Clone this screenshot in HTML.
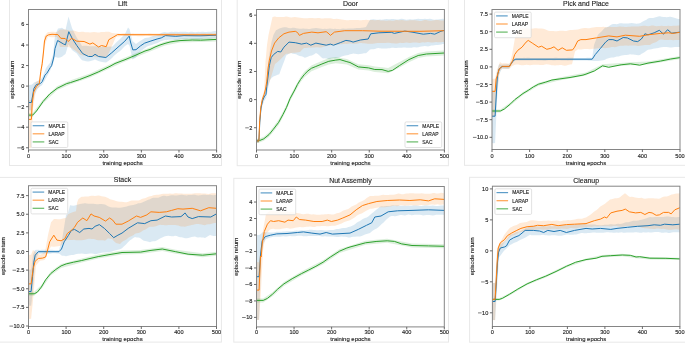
<!DOCTYPE html><html><head><meta charset="utf-8"><style>html,body{margin:0;padding:0;background:#fff;width:685px;height:344px;overflow:hidden}svg{display:block}#w{width:685px;height:344px}text{font-family:"Liberation Sans", sans-serif}.t{filter:grayscale(1)}</style></head><body>
<div id="w"><svg width="685" height="344" viewBox="0 0 685 344">
<rect width="685" height="344" fill="#fff"/>
<rect x="9.5" y="-5" width="212" height="170.5" fill="none" stroke="#e8e8e8" stroke-width="1"/>
<rect x="237.2" y="-5" width="211.2" height="170.7" fill="none" stroke="#e8e8e8" stroke-width="1"/>
<rect x="464.5" y="-5" width="225.5" height="170.3" fill="none" stroke="#e8e8e8" stroke-width="1"/>
<rect x="-5" y="177.4" width="226.4" height="164.7" fill="none" stroke="#e8e8e8" stroke-width="1"/>
<rect x="233.8" y="178.3" width="214.7" height="163.8" fill="none" stroke="#e8e8e8" stroke-width="1"/>
<rect x="469.6" y="177.3" width="220.4" height="164.9" fill="none" stroke="#e8e8e8" stroke-width="1"/>
<clipPath id="cLift"><rect x="28.5" y="9.5" width="188.1" height="140.5"/></clipPath>
<g clip-path="url(#cLift)">
<polygon points="28.5,85 31.4,84.75 33,83.67 34,82.6 36,81.7 38,80.92 40,79.57 42,78.09 44,73.14 46,67.99 48,65.36 50,62.94 53,55.06 55,35.3 58,28.52 60,28.29 62,27.87 63.75,28.97 65.5,30.12 68.5,16.46 70.25,22.27 72,28.05 74.4,32.9 76.8,37.84 78.53,40.37 80.27,43.12 82,45.98 84,45.77 86,45.67 88,45.98 89.75,46.16 91.5,46.16 93.25,46.29 95,46.24 96.67,46.31 98.33,46.57 100,46.67 102,46.64 104,46.89 106,47.1 108,46.74 110,46.55 112,46.85 113.75,45.28 115.5,43.22 117.25,41.4 119,39.97 121,38.1 123,36.02 125,33.99 128,27.39 129.5,28.97 132.5,41.05 134.25,42.54 136,43.98 137.67,42.69 139.33,41.51 141,40.4 143,39.29 145,37.98 147,37.73 149,37.41 151,36.7 153,35.96 155,35.68 157,35.25 158.6,34.44 160.2,33.58 161.8,32.86 163.4,32.33 165,32.09 166.67,32.44 168.33,32.45 170,32.02 171.67,31.77 173.33,31.89 175,31.75 176.8,31.81 178.6,31.94 180.4,31.69 182.2,31.68 184,31.74 185.6,31.71 187.2,32.08 188.8,32.23 190.4,31.8 192,31.63 193.6,32 195.2,32.33 196.8,32.1 198.4,31.87 200,31.98 201.64,31.72 203.28,31.66 204.92,31.99 206.56,32 208.2,31.82 209.84,31.78 211.48,31.7 213.12,31.35 214.76,31.01 216.4,31 216.4,38 214.76,37.92 213.12,38.12 211.48,38.41 209.84,38.75 208.2,38.8 206.56,38.59 204.92,38.38 203.28,38.59 201.64,39.05 200,39.19 198.4,39.23 196.8,39.19 195.2,38.89 193.6,39 192,39.17 190.4,38.78 188.8,38.58 187.2,39.05 185.6,39.47 184,39.33 182.2,39.11 180.4,39.11 178.6,39.39 176.8,39.8 175,39.96 173.33,39.84 171.67,39.85 170,39.7 168.33,39.8 166.67,40.15 165,40.05 163.4,40.45 161.8,40.99 160.2,41.58 158.6,42.58 157,43.35 155,43.67 153,44.39 151,45.17 149,45.79 147,46.61 145,47.93 143,49.62 141,51.12 139.33,53.41 137.67,55.36 136,57.4 134.25,58.41 132.5,59.52 129.5,45.83 128,43.97 125,45.88 123,48.09 121,50.22 119,51.81 117.25,52.99 115.5,54.46 113.75,56.11 112,58.05 110,59.77 108,61.14 106,62.4 104,62.29 102,61.95 100,61.57 98.33,61.08 96.67,60.33 95,59.58 93.25,60.17 91.5,60.83 89.75,61.16 88,61.57 86,61.24 84,60.71 82,60.32 80.27,58.3 78.53,55.89 76.8,53.54 74.4,51.72 72,50.01 70.25,47.06 68.5,44.19 65.5,54.04 63.75,55.24 62,56.82 60,57.43 58,57.67 55,56.91 53,63.86 50,70.92 48,74.58 46,78.15 44,81.76 42,85.21 40,86.47 38,87.98 36,91.93 34,95.85 33,101.17 31.4,110.48 28.5,110" fill="#1f77b4" fill-opacity="0.165"/>
<polygon points="28.5,100 31.4,100.09 32.3,92.15 33,88.07 36,81.88 37.65,80.88 39.3,80.25 42,58.39 44.5,35.97 46.25,33.83 48,32.08 49.8,32.02 51.6,31.83 53.4,31.87 55.2,31.98 57,32.09 60,29.46 62,29.4 64,29.55 66,29.51 68,30.22 70,30.77 72,30.74 73.6,30.58 75.2,30.94 76.8,31.47 78.4,31.88 80,31.88 81.67,31.71 83.33,31.86 85,32.23 86.67,32.37 88.33,32.3 90,32.39 92,32.17 94,31.91 96,32.13 97.67,32.4 99.33,32.38 101,32.12 102.67,31.97 104.33,31.94 106,31.7 109,31.8 112,33.12 114,33.33 116,33.53 118,33.61 120,33.65 121.61,33.57 123.21,33.36 124.82,33.32 126.43,33.39 128.03,33.32 129.64,33.34 131.25,33.4 132.85,33.35 134.46,33.42 136.07,33.49 137.67,33.43 139.28,33.44 140.89,33.43 142.49,33.41 144.1,33.51 145.71,33.51 147.31,33.43 148.92,33.36 150.53,33.34 152.13,33.43 153.74,33.46 155.35,33.51 156.95,33.52 158.56,33.46 160.17,33.48 161.77,33.53 163.38,33.61 164.99,33.51 166.59,33.34 168.2,33.34 169.81,33.36 171.41,33.35 173.02,33.3 174.63,33.35 176.23,33.4 177.84,33.36 179.45,33.44 181.05,33.38 182.66,33.31 184.27,33.42 185.87,33.49 187.48,33.47 189.09,33.31 190.69,33.15 192.3,33.18 193.91,33.37 195.51,33.41 197.12,33.35 198.73,33.43 200.33,33.42 201.94,33.31 203.55,33.31 205.15,33.36 206.76,33.39 208.37,33.36 209.97,33.28 211.58,33.35 213.19,33.44 214.79,33.37 216.4,33.3 216.4,36.3 214.79,36.41 213.19,36.36 211.58,36.18 209.97,36.09 208.37,36.21 206.76,36.42 205.15,36.46 203.55,36.32 201.94,36.15 200.33,36.03 198.73,36.12 197.12,36.35 195.51,36.29 193.91,36.13 192.3,36.17 190.69,36.2 189.09,36.28 187.48,36.34 185.87,36.16 184.27,36.03 182.66,36.1 181.05,36.3 179.45,36.35 177.84,36.25 176.23,36.26 174.63,36.32 173.02,36.32 171.41,36.29 169.81,36.22 168.2,36.01 166.59,35.97 164.99,36.16 163.38,36.17 161.77,36.13 160.17,36.22 158.56,36.13 156.95,36.05 155.35,36.22 153.74,36.32 152.13,36.36 150.53,36.25 148.92,35.98 147.31,35.85 145.71,35.83 144.1,35.95 142.49,36.21 140.89,36.3 139.28,36.21 137.67,36.13 136.07,36.11 134.46,36.05 132.85,35.89 131.25,35.89 129.64,36.05 128.03,36.04 126.43,36.02 124.82,36.08 123.21,36.08 121.61,36.09 120,36.13 118,36.6 116,36.91 114,41.28 112,46.1 109,52.4 106,57.53 104.33,57.39 102.67,57.11 101,56.92 99.33,57.02 97.67,57.24 96,57.14 94,56.74 92,56.51 90,56.17 88.33,55.94 86.67,56 85,55.68 83.33,55.39 81.67,55.3 80,54.85 78.4,53.32 76.8,51.87 75.2,50.6 73.6,49.57 72,48.14 70,47.49 68,46.9 66,46.77 64,47.12 62,47.1 60,46.96 57,36.88 55.2,36.96 53.4,37.14 51.6,37.18 49.8,37.02 48,36.85 46.25,41.37 44.5,46.07 42,70.09 39.3,86.97 37.65,88.42 36,89.93 33,108.15 32.3,125.27 31.4,148.07 28.5,148" fill="#ff7f0e" fill-opacity="0.165"/>
<polygon points="28.5,113 32.7,113 43,99.5 57,86.3 70,80.6 90,73.5 122,58.8 135,53.5 150,47.5 165,41.4 180,38.6 216.6,37.4 216.6,41.4 180,42.6 165,45.4 150,51.5 135,57.5 122,62.8 90,77.5 70,84.6 57,90.3 43,103.5 32.7,117 28.5,117" fill="#2ca02c" fill-opacity="0.165"/>
<polyline points="28.5,115.1 32.7,115.1 36.5,111 43.1,101.5 49.7,94 57.2,88.3 66.7,83.6 70.4,82.6 79.7,79.5 90,75.5 98.2,72 110,66.3 115,63.5 122,60.8 125,59.7 135,55.5 145,51 150,49.5 155,47 160,45 165,43.4 170,42 175,41.2 180,40.6 192.2,40 200.5,40.2 216.6,39.4" fill="none" stroke="#2ca02c" stroke-width="1.0" stroke-linejoin="round"/>
<polyline points="28.5,102.5 31.4,102.5 34,88.3 36.5,84.5 40.3,83.6 42.2,81.7 45,75.1 46.9,73.2 50.3,67.5 51.6,65.7 53.1,60 54,56 55,48.5 57.6,40.5 63.7,44.1 65.5,44.8 68.8,31.7 72.5,39 76.8,45.5 82.6,53.5 88.5,56.5 92.1,56.5 95,54.3 98.6,56.5 105.9,57.5 111.7,52.8 119,46.3 124.8,41.2 129.2,36.1 130.5,42 132.8,49.9 136,49.7 140.6,45.8 144.7,43.1 150.9,41 157.1,39 161.3,37.9 165.4,35.6 175.7,36.3 184,35.6 200,35.8 216.4,35.2" fill="none" stroke="#1f77b4" stroke-width="1.0" stroke-linejoin="round"/>
<polyline points="28.5,119.4 31.4,119.4 32.2,103.4 33.7,92 36.5,86.4 39.3,83.6 40.8,71.3 42.2,63.8 43.5,52 44.5,41 46.3,36 48.7,34.8 52,34.3 57.9,34.6 60.8,38.3 65.2,38.5 68.1,41.5 71.7,38.3 76.8,41.2 84.1,41.5 89.9,44.1 92.8,42.9 98.6,47 101.5,45.5 106.2,46.7 108.8,39.7 113.9,36.8 117.5,34.6 122,34.7 216.4,34.8" fill="none" stroke="#ff7f0e" stroke-width="1.0" stroke-linejoin="round"/>
</g>
<rect x="28.5" y="9.5" width="188.1" height="140.5" fill="none" stroke="#858585" stroke-width="1"/>
<line x1="28.5" y1="150" x2="28.5" y2="152.5" stroke="#5a5a5a" stroke-width="0.9"/>
<line x1="66.12" y1="150" x2="66.12" y2="152.5" stroke="#5a5a5a" stroke-width="0.9"/>
<line x1="103.74" y1="150" x2="103.74" y2="152.5" stroke="#5a5a5a" stroke-width="0.9"/>
<line x1="141.36" y1="150" x2="141.36" y2="152.5" stroke="#5a5a5a" stroke-width="0.9"/>
<line x1="178.98" y1="150" x2="178.98" y2="152.5" stroke="#5a5a5a" stroke-width="0.9"/>
<line x1="216.6" y1="150" x2="216.6" y2="152.5" stroke="#5a5a5a" stroke-width="0.9"/>
<line x1="26" y1="147.75" x2="28.5" y2="147.75" stroke="#5a5a5a" stroke-width="0.9"/>
<line x1="26" y1="127.2" x2="28.5" y2="127.2" stroke="#5a5a5a" stroke-width="0.9"/>
<line x1="26" y1="106.65" x2="28.5" y2="106.65" stroke="#5a5a5a" stroke-width="0.9"/>
<line x1="26" y1="86.1" x2="28.5" y2="86.1" stroke="#5a5a5a" stroke-width="0.9"/>
<line x1="26" y1="65.55" x2="28.5" y2="65.55" stroke="#5a5a5a" stroke-width="0.9"/>
<line x1="26" y1="45" x2="28.5" y2="45" stroke="#5a5a5a" stroke-width="0.9"/>
<line x1="26" y1="24.45" x2="28.5" y2="24.45" stroke="#5a5a5a" stroke-width="0.9"/>
<rect x="31.1" y="121.9" width="36.7" height="25.6" rx="1.2" fill="#fff" fill-opacity="0.8" stroke="#d6d6d6" stroke-width="0.7"/>
<line x1="32.7" y1="125.7" x2="44.3" y2="125.7" stroke="#1f77b4" stroke-width="1.2" stroke-opacity="0.72"/>
<line x1="32.7" y1="133.8" x2="44.3" y2="133.8" stroke="#ff7f0e" stroke-width="1.2" stroke-opacity="0.72"/>
<line x1="32.7" y1="141.9" x2="44.3" y2="141.9" stroke="#2ca02c" stroke-width="1.2" stroke-opacity="0.72"/>
<clipPath id="cDoor"><rect x="256.5" y="9.5" width="187.9" height="140.5"/></clipPath>
<g clip-path="url(#cDoor)">
<polygon points="256.5,139 258.9,138.91 259.8,116.89 261,103.96 262.5,96.92 264.2,92.71 266,87.73 267,75.08 268.5,60.29 270,50.15 271.5,42.02 273.4,35.08 276,30.2 277.65,29.54 279.3,28.52 281,27.92 282.7,27.58 284.45,27.36 286.2,27.32 288.55,27.92 290.9,28.15 292.65,27.82 294.4,27.85 296.15,28.26 297.9,28.47 299.62,28.68 301.35,28.64 303.07,28.47 304.8,28.64 306.55,28.71 308.3,28.96 310.05,29.03 311.8,28.58 313.9,28.2 316,28.09 317.75,28.29 319.5,28.59 321.25,28.81 323,28.88 324.75,28.81 326.5,28.96 328.25,28.83 330,28.45 331.67,28.65 333.33,28.91 335,28.83 336.67,28.9 338.33,29.1 340,29.16 341.67,28.84 343.33,28.54 345,28.66 346.67,28.74 348.33,28.56 350,28.44 351.67,28.4 353.33,28.41 355,28.22 356.67,27.96 358.33,28.03 360,28.09 362,27.68 364,27.43 366,27.04 368,23.26 370,19.67 371.67,19.45 373.33,19.26 375,19.48 376.67,19.78 378.33,19.7 380,19.5 381.67,19.63 383.33,19.59 385,19.18 386.67,19.05 388.33,19.33 390,19.33 391.67,18.95 393.33,18.89 395,19.27 396.67,19.49 398.33,19.38 400,19.11 401.67,18.82 403.33,18.93 405,19.45 406.67,19.78 408.33,19.56 410,19.36 411.67,19.56 413.33,19.52 415,19.18 416.67,18.97 418.33,18.87 420,18.9 421.62,19.08 423.24,19.06 424.86,18.82 426.48,18.88 428.1,18.96 429.72,18.85 431.34,19.11 432.96,19.54 434.58,19.68 436.2,19.56 437.82,19.42 439.44,19.24 441.06,18.9 442.68,18.79 444.3,19 444.3,44 442.68,44.12 441.06,44.48 439.44,44.71 437.82,44.99 436.2,45.03 434.58,45.29 432.96,45.53 431.34,45.49 429.72,45.91 428.1,46.38 426.48,46.31 424.86,46.11 423.24,46.14 421.62,46.39 420,46.81 418.33,47.27 416.67,47.43 415,47.22 413.33,47.35 411.67,47.82 410,47.81 408.33,47.64 406.67,47.74 405,47.56 403.33,47.45 401.67,47.69 400,47.75 398.33,47.66 396.67,47.88 395,48.07 393.33,47.85 391.67,47.83 390,48.16 388.33,48.32 386.67,48.42 385,48.56 383.33,48.56 381.67,48.47 380,48.17 378.33,48.01 376.67,48.33 375,49.02 373.33,49.2 371.67,49.17 370,49.58 368,51.54 366,53.25 364,53.33 362,53.73 360,54.12 358.33,54.13 356.67,54.12 355,53.77 353.33,53.61 351.67,53.97 350,54.28 348.33,54.99 346.67,55.35 345,55.57 343.33,56.06 341.67,56.62 340,57.24 338.33,57.63 336.67,58 335,58.18 333.33,58 331.67,58.15 330,58.93 328.25,58.94 326.5,58.39 324.75,58.16 323,58.38 321.25,57.28 319.5,55.61 317.75,54.02 316,53 313.9,54.44 311.8,55.52 310.05,55.83 308.3,56.44 306.55,57.32 304.8,57.76 303.07,56.78 301.35,56.33 299.62,55.98 297.9,55.15 296.15,54.31 294.4,53.96 292.65,53.66 290.9,52.88 288.55,53.96 286.2,55.54 284.45,60.52 282.7,65.06 281,69.47 279.3,74.16 277.65,74.85 276,75.4 273.4,76.49 271.5,78.12 270,79.92 268.5,86.06 267,94.08 266,97.89 264.2,100.95 262.5,105.21 261,112.21 259.8,124.93 258.9,142.95 256.5,143" fill="#1f77b4" fill-opacity="0.165"/>
<polygon points="256.5,139 258.9,139.01 259.8,116.93 261,103.65 262.5,95.57 264.2,90.7 265.5,61.82 267,44.99 268.5,35.12 270,28.13 272.5,16.93 275,16.59 276.67,16.97 278.33,16.94 280,16.88 282,17.03 284,16.93 286,16.59 287.75,16.74 289.5,17.29 291.25,17.52 293,17.2 294.75,16.91 296.5,17.16 298.25,17.6 300,17.76 302,17.91 304,18.16 305.71,18.26 307.43,18.22 309.14,18.01 310.86,17.89 312.57,18.12 314.29,18.32 316,18.21 317.75,18 319.5,18.08 321.25,18.4 323,18.46 324.75,18.35 326.5,18.36 328.25,18.33 330,18.21 331.67,18.43 333.33,18.88 335,19.01 336.67,18.85 338.33,18.96 340,19.27 341.67,19.42 343.33,19.68 345,20.1 346.67,20.31 348.33,20.2 350,19.97 351.61,19.94 353.23,20.05 354.84,19.99 356.45,19.99 358.06,20.05 359.68,20.16 361.29,20.19 362.9,20.08 364.52,19.94 366.13,19.8 367.74,19.97 369.35,20.17 370.97,19.99 372.58,20 374.19,20.26 375.81,20.35 377.42,20.12 379.03,20.05 380.65,20.45 382.26,20.52 383.87,20.41 385.48,20.66 387.1,20.65 388.71,20.41 390.32,20.52 391.94,20.72 393.55,20.64 395.16,20.3 396.77,20.12 398.39,20.21 400,20.16 401.64,20.02 403.28,20.13 404.92,20.5 406.56,20.66 408.2,20.45 409.84,20.28 411.49,20.22 413.13,20.23 414.77,20.31 416.41,20.45 418.05,20.71 419.69,20.9 421.33,20.9 422.97,20.57 424.61,20.03 426.25,20.01 427.89,20.44 429.53,20.75 431.17,20.63 432.81,20.38 434.46,20.35 436.1,20.1 437.74,20.03 439.38,20.32 441.02,20.43 442.66,20.44 444.3,20.4 444.3,42 442.66,41.93 441.02,42.28 439.38,42.31 437.74,42.14 436.1,42.11 434.46,42.26 432.81,42.46 431.17,42.42 429.53,42.22 427.89,42.12 426.25,42.34 424.61,42.5 422.97,42.37 421.33,42.61 419.69,42.88 418.05,42.74 416.41,42.57 414.77,42.45 413.13,42.49 411.49,42.79 409.84,42.89 408.2,42.7 406.56,42.5 404.92,42.65 403.28,43.02 401.64,42.91 400,42.81 398.39,43.15 396.77,43.43 395.16,43.5 393.55,43.34 391.94,43.2 390.32,43.11 388.71,42.85 387.1,42.83 385.48,43.09 383.87,43.04 382.26,42.93 380.65,42.99 379.03,43.04 377.42,43.07 375.81,43.14 374.19,43.49 372.58,43.78 370.97,43.73 369.35,43.71 367.74,43.63 366.13,43.38 364.52,43.24 362.9,43.17 361.29,43.03 359.68,43.07 358.06,43.38 356.45,43.7 354.84,43.8 353.23,43.74 351.61,43.62 350,43.5 348.33,43.77 346.67,43.9 345,43.82 343.33,43.96 341.67,44.17 340,44.35 338.33,44.53 336.67,44.81 335,45.16 333.33,45.32 331.67,45.34 330,45.48 328.25,45.76 326.5,46.08 324.75,46.44 323,46.9 321.25,47.4 319.5,47.47 317.75,47.2 316,47.3 314.29,47.41 312.57,47.54 310.86,47.67 309.14,47.53 307.43,47.67 305.71,48.03 304,47.88 302,49.78 300,52 298.25,52.34 296.5,52.61 294.75,52.72 293,52.75 291.25,52.99 289.5,53.49 287.75,53.69 286,53.76 284,55.82 282,57.84 280,59.84 278.33,61.26 276.67,62.74 275,64.07 272.5,72.23 270,80.49 268.5,84.53 267,88.41 265.5,93.21 264.2,96.95 262.5,101.82 261,109.8 259.8,122.77 258.9,142.96 256.5,143" fill="#ff7f0e" fill-opacity="0.165"/>
<polygon points="256.5,138.8 259.5,138.6 263.8,136.8 269.1,132.2 273.4,126.7 278.7,119.6 283,111.8 286.5,104.8 290,96.2 294.7,87.5 300.5,76.8 304.4,71.6 311.4,65.4 315.8,63.5 321.9,61 328.8,58.1 335.8,56.9 346.9,59 358.3,64.3 368.6,65.3 374.8,66.6 388.2,68 399.6,62.1 408.9,57 418.2,53 426.4,51.5 444.3,50.5 444.3,55.5 426.4,56.5 418.2,58 408.9,62.3 399.6,67.5 388.2,73.2 374.8,72 368.6,70.5 358.3,69.5 346.9,64.5 335.8,63.3 328.8,64.5 321.9,67 315.8,69.5 311.4,71.2 304.4,77.2 300.5,82.2 294.7,92.5 290,101.2 286.5,110 283,117 278.7,125 273.4,131.7 269.1,136.8 263.8,140.8 259.5,142.6 256.5,142.8" fill="#2ca02c" fill-opacity="0.165"/>
<polyline points="256.5,140.8 259.5,140.6 263.8,138.8 269.1,134.5 273.4,129.2 278.7,122.3 283,114.4 286.5,107.4 290,98.7 294.7,90 297.4,84.5 300.5,79.5 304.4,74.4 308,70.8 311.4,68.3 315.8,66.5 321.9,64 328.8,61.3 335.8,60.1 340,59.6 346.9,61.7 350,62.5 358.3,66.9 368.6,67.9 374.8,69.5 382,69.6 388.2,71.4 392.4,70.4 399.6,65.5 408.9,59.6 418.2,55.5 426.4,54 444.3,53" fill="none" stroke="#2ca02c" stroke-width="1.0" stroke-linejoin="round"/>
<polyline points="256.5,141 258.9,141 259.8,122 261,108 262.5,101 264.2,96.9 266,94.3 266.8,86.4 268.1,76 269.4,65.5 271.2,57.6 273.6,54.5 277.7,51.4 280.8,52 283.9,47.2 289,42.1 295.3,42.7 301.5,44.1 306.6,43.1 310.8,45.2 315.9,43.1 326.2,45.2 330.4,44.1 333.5,45.2 340.7,42.5 345.9,40.4 350,41 353.1,42.1 360.3,40 368.2,39 370.7,33.8 378.9,32.8 391.3,32.3 394.4,33.4 404.8,31.1 412,32.1 423.3,34.2 430.6,33.4 434.7,34.2 440.9,31.3 444.3,30.3" fill="none" stroke="#1f77b4" stroke-width="1.0" stroke-linejoin="round"/>
<polyline points="256.5,141 258.9,141 259.7,120.4 260.8,107.4 262.3,99.5 264.2,94.3 265.5,89 266.8,81.2 268.1,68.1 269.4,60.2 271.5,51 274.6,43.1 278.7,37.9 283.9,33.8 289,32.1 295.3,31.3 297.5,32.5 299.4,35.4 303.5,33.4 311.8,32.1 318,32.8 326.2,31.7 328,33 330.4,35.4 334.5,32.1 344.8,30.7 362.4,30.7 380,31.2 420,31.3 444.3,30.7" fill="none" stroke="#ff7f0e" stroke-width="1.0" stroke-linejoin="round"/>
</g>
<rect x="256.5" y="9.5" width="187.9" height="140.5" fill="none" stroke="#858585" stroke-width="1"/>
<line x1="256.5" y1="150" x2="256.5" y2="152.5" stroke="#5a5a5a" stroke-width="0.9"/>
<line x1="294.08" y1="150" x2="294.08" y2="152.5" stroke="#5a5a5a" stroke-width="0.9"/>
<line x1="331.66" y1="150" x2="331.66" y2="152.5" stroke="#5a5a5a" stroke-width="0.9"/>
<line x1="369.24" y1="150" x2="369.24" y2="152.5" stroke="#5a5a5a" stroke-width="0.9"/>
<line x1="406.82" y1="150" x2="406.82" y2="152.5" stroke="#5a5a5a" stroke-width="0.9"/>
<line x1="444.4" y1="150" x2="444.4" y2="152.5" stroke="#5a5a5a" stroke-width="0.9"/>
<line x1="254" y1="127.74" x2="256.5" y2="127.74" stroke="#5a5a5a" stroke-width="0.9"/>
<line x1="254" y1="99.6" x2="256.5" y2="99.6" stroke="#5a5a5a" stroke-width="0.9"/>
<line x1="254" y1="71.46" x2="256.5" y2="71.46" stroke="#5a5a5a" stroke-width="0.9"/>
<line x1="254" y1="43.32" x2="256.5" y2="43.32" stroke="#5a5a5a" stroke-width="0.9"/>
<line x1="254" y1="15.18" x2="256.5" y2="15.18" stroke="#5a5a5a" stroke-width="0.9"/>
<rect x="405" y="121.9" width="36.7" height="25.6" rx="1.2" fill="#fff" fill-opacity="0.8" stroke="#d6d6d6" stroke-width="0.7"/>
<line x1="406.6" y1="125.7" x2="418.2" y2="125.7" stroke="#1f77b4" stroke-width="1.2" stroke-opacity="0.72"/>
<line x1="406.6" y1="133.8" x2="418.2" y2="133.8" stroke="#ff7f0e" stroke-width="1.2" stroke-opacity="0.72"/>
<line x1="406.6" y1="141.9" x2="418.2" y2="141.9" stroke="#2ca02c" stroke-width="1.2" stroke-opacity="0.72"/>
<clipPath id="cPickandPlace"><rect x="492" y="9.5" width="188" height="140"/></clipPath>
<g clip-path="url(#cPickandPlace)">
<polygon points="491.9,90 493.5,90.21 495.1,90.29 497,72.35 499,64.37 502,64.69 503.75,64.53 505.5,64.49 507.25,64.37 509,64.2 511.35,61.37 513.7,58.51 516,57.9 517.62,58.01 519.24,58.05 520.86,57.96 522.49,57.89 524.11,57.86 525.73,57.91 527.35,57.79 528.97,57.72 530.59,57.89 532.21,58.03 533.83,58.05 535.46,57.99 537.08,57.89 538.7,57.88 540.32,57.95 541.94,58.02 543.56,58.08 545.18,58.04 546.8,57.97 548.43,57.95 550.05,57.91 551.67,57.91 553.29,57.95 554.91,57.83 556.53,57.79 558.15,57.96 559.77,57.97 561.4,57.96 563.02,58.02 564.64,58.06 566.26,57.99 567.88,57.81 569.5,57.77 571.12,57.78 572.74,57.79 574.37,57.93 575.99,58.07 577.61,58.1 579.23,58.01 580.85,57.93 582.47,57.98 584.09,58.08 585.71,58.01 587.34,57.86 588.96,57.77 590.58,57.7 592.2,57.77 594,44.93 596,39.78 598,34.69 599.75,33.12 601.5,31.5 603.25,29.58 605,27.86 606.75,27.27 608.5,26.42 610.25,25.36 612,24.24 613.6,23.98 615.2,24.04 616.8,24.17 618.4,23.84 620,23.37 621.67,23.33 623.33,23.5 625,23.45 626.67,23.42 628.33,23.54 630,23.23 631.67,22.98 633.33,23.15 635,23.44 636.67,23.72 638.33,23.61 640,23.19 641.6,22.15 643.2,21.33 644.8,20.43 646.4,19.67 648,18.57 649.71,18.05 651.43,18.02 653.14,18 654.86,17.54 656.57,16.93 658.29,16.56 660,16.37 661.67,16.74 663.33,16.92 665,16.98 666.67,17.15 668.33,17 670,16.76 671.67,17 673.33,17.41 675,17.89 676.67,18.38 678.33,19.03 680,19.3 680,47 678.33,46.89 676.67,46.97 675,47 673.33,47.31 671.67,47.48 670,47.42 668.33,47.24 666.67,46.99 665,46.99 663.33,46.99 661.67,47.25 660,47.6 658.29,47.96 656.57,48.3 654.86,48.5 653.14,48.84 651.43,49.34 649.71,49.6 648,49.71 646.4,50.66 644.8,51.91 643.2,53.04 641.6,53.87 640,54.97 638.33,55.17 636.67,55.05 635,54.7 633.33,54.54 631.67,54.5 630,54.28 628.33,54.7 626.67,55.12 625,55.12 623.33,55.34 621.67,55.61 620,55.9 618.4,56.4 616.8,56.6 615.2,56.99 613.6,57.47 612,57.53 610.25,57.8 608.5,58.13 606.75,58.75 605,59.75 603.25,60.33 601.5,60.61 599.75,60.81 598,61.11 596,61.08 594,61 592.2,60.63 590.58,60.75 588.96,60.67 587.34,60.5 585.71,60.47 584.09,60.61 582.47,60.6 580.85,60.47 579.23,60.39 577.61,60.41 575.99,60.44 574.37,60.42 572.74,60.38 571.12,60.42 569.5,60.58 567.88,60.65 566.26,60.61 564.64,60.54 563.02,60.45 561.4,60.38 559.77,60.29 558.15,60.3 556.53,60.36 554.91,60.4 553.29,60.46 551.67,60.36 550.05,60.26 548.43,60.32 546.8,60.47 545.18,60.64 543.56,60.67 541.94,60.55 540.32,60.42 538.7,60.42 537.08,60.45 535.46,60.37 533.83,60.32 532.21,60.46 530.59,60.59 528.97,60.53 527.35,60.5 525.73,60.59 524.11,60.55 522.49,60.43 520.86,60.42 519.24,60.5 517.62,60.54 516,60.47 513.7,61.46 511.35,65.07 509,68.64 507.25,68.69 505.5,68.81 503.75,68.69 502,68.4 499,74.84 497,99.85 495.1,142.88 493.5,143.14 491.9,143" fill="#1f77b4" fill-opacity="0.165"/>
<polygon points="491.9,79 493.5,78.8 495.1,78.8 497,69.99 500,62.01 502,63.39 503.9,63.23 505.8,63.3 507.7,63.55 509.6,63.7 512,55.09 515,37.72 516.67,34.69 518.33,31.78 520,28.59 521.67,28.61 523.33,28.59 525,28.4 526.67,28.28 528.33,28.45 530,28.72 531.67,28.69 533.33,28.48 535,28.25 536.67,28.31 538.33,28.59 540,28.44 541.67,28.48 543.33,28.74 545,29.26 546.67,30.06 548.33,30.71 550,30.95 551.67,30.9 553.33,31.11 555,31.27 556.67,31.19 558.33,30.88 560,30.7 561.6,30.7 563.2,30.83 564.8,30.98 566.4,30.96 568,30.5 570,29.95 572,29.92 575,29.85 578,29.45 579.6,29.11 581.2,28.56 582.8,28.27 584.4,28.06 586,28.08 587.75,28.34 589.5,28.16 591.25,27.75 593,27.56 594.75,27.2 596.5,26.96 598.25,27.05 600,27.05 601.67,27.03 603.33,26.83 605,26.9 606.67,27.15 608.33,26.97 610,26.78 611.67,26.95 613.33,27.09 615,27.07 616.67,26.96 618.33,26.71 620,26.59 621.67,26.65 623.33,26.86 625,27.08 626.67,27.03 628.33,26.84 630,26.68 631.67,26.57 633.33,26.48 635,26.47 636.67,26.57 638.33,26.58 640,26.31 641.67,25.95 643.33,25.71 645,25.74 646.67,26.01 648.33,26.19 650,26.01 651.67,25.62 653.33,25.61 655,25.97 656.67,26.15 658.33,26.12 660,25.9 661.67,25.83 663.33,26.02 665,26 666.67,25.9 668.33,25.86 670,25.95 671.67,25.93 673.33,25.68 675,25.76 676.67,25.7 678.33,25.39 680,25.5 680,40 678.33,39.93 676.67,39.9 675,39.93 673.33,40.13 671.67,40.01 670,39.81 668.33,39.93 666.67,40.06 665,39.91 663.33,39.64 661.67,39.54 660,39.56 658.33,40.53 656.67,41.7 655,42.61 653.33,43.02 651.67,43.81 650,44.97 648.33,45.02 646.67,44.97 645,45.03 643.33,45.18 641.67,45.44 640,45.7 638.33,45.93 636.67,45.81 635,45.48 633.33,45.47 631.67,45.55 630,45.57 628.33,45.66 626.67,45.56 625,45.55 623.33,45.76 621.67,45.81 620,45.73 618.33,46.14 616.67,46.81 615,47.16 613.33,47.03 611.67,47.03 610,47.42 608.33,47.77 606.67,48.03 605,48.22 603.33,48.06 601.67,47.9 600,48.02 598.25,48.13 596.5,48.46 594.75,48.69 593,48.8 591.25,49.05 589.5,49.13 587.75,49.1 586,49.07 584.4,49.12 582.8,49.33 581.2,49.52 579.6,49.57 578,49.29 575,51.44 572,64.37 570,64.62 568,65.07 566.4,65.59 564.8,65.82 563.2,65.42 561.6,65.05 560,65.08 558.33,65.13 556.67,65.35 555,65.45 553.33,65.31 551.67,65.15 550,64.79 548.33,64.44 546.67,64.29 545,64.62 543.33,64.93 541.67,64.91 540,64.91 538.33,64.79 536.67,64.73 535,64.7 533.33,64.82 531.67,65.11 530,65.13 528.33,65.01 526.67,64.83 525,64.89 523.33,65.15 521.67,65.21 520,64.96 518.33,64.57 516.67,64.56 515,64.87 512,66.03 509.6,68.8 507.7,69.02 505.8,69.08 503.9,68.87 502,68.88 500,70.77 497,89.71 495.1,116 493.5,116.24 491.9,116" fill="#ff7f0e" fill-opacity="0.165"/>
<polygon points="491.9,109.5 500.3,109.5 510.6,102.3 523,92 538.5,82.7 559.1,77.5 586,72.6 602.5,64.3 630.4,62.3 648,61.6 680,56.1 680,59.1 648,64.6 630.4,65.3 602.5,67.3 586,75.6 559.1,80.5 538.5,85.7 523,95 510.6,105.3 500.3,112.5 491.9,112.5" fill="#2ca02c" fill-opacity="0.165"/>
<polyline points="491.9,111 500.3,111 504.4,109 510.6,103.8 514.7,99.7 518.9,96.6 523,93.5 528.2,90.4 533.3,86.9 538.5,84.2 545.7,82.1 551.9,80 559.1,79 570,77.5 583,75.1 586,74.1 594.3,71 602.5,65.8 608.7,67.3 621.1,64.8 630.4,63.8 639.7,65.2 648,63.1 660.4,61.1 670.7,59 680,57.6" fill="none" stroke="#2ca02c" stroke-width="1.0" stroke-linejoin="round"/>
<polyline points="491.9,116.2 495.1,116.2 496,100 497.2,79 497.8,74 499.2,68.9 502,66.6 509,66.6 511.6,63.1 513.7,60.2 515.8,59.2 592.2,59.2 595.3,54.5 600.5,48.3 605.6,42.1 608.7,39.6 612.9,39.6 617,41 623.2,37.5 627.3,37.9 633.5,41 637.7,41.6 641.4,39 644.9,33.8 648,34.8 654.2,32.8 659.3,30.3 663.5,34.2 667.6,29.7 671.7,33.2 680,32.1" fill="none" stroke="#1f77b4" stroke-width="1.0" stroke-linejoin="round"/>
<polyline points="491.9,91.4 495.1,91.4 495.6,85 496.1,79 497.2,76 499.2,68.9 502.3,66.4 509.6,66.4 512.7,60.7 514.7,54.5 517.8,50.3 522,47.2 526.1,42.1 528.2,40.4 532.3,43.1 538.5,47.2 541.6,46.2 546.8,49.3 550.9,48.3 554,46.8 558.1,50.3 562.2,47.8 566.4,50.3 572.6,49.9 574.6,47.2 577.7,41 580.8,39.6 586,39.6 596.3,37.9 608.7,35.9 617,36.9 625.3,35.2 639.7,36.3 648,34.8 660.4,33.4 668.6,32.8 672.8,33.4 680,32.3" fill="none" stroke="#ff7f0e" stroke-width="1.0" stroke-linejoin="round"/>
</g>
<rect x="492" y="9.5" width="188" height="140" fill="none" stroke="#858585" stroke-width="1"/>
<line x1="492" y1="149.5" x2="492" y2="152" stroke="#5a5a5a" stroke-width="0.9"/>
<line x1="529.6" y1="149.5" x2="529.6" y2="152" stroke="#5a5a5a" stroke-width="0.9"/>
<line x1="567.2" y1="149.5" x2="567.2" y2="152" stroke="#5a5a5a" stroke-width="0.9"/>
<line x1="604.8" y1="149.5" x2="604.8" y2="152" stroke="#5a5a5a" stroke-width="0.9"/>
<line x1="642.4" y1="149.5" x2="642.4" y2="152" stroke="#5a5a5a" stroke-width="0.9"/>
<line x1="680" y1="149.5" x2="680" y2="152" stroke="#5a5a5a" stroke-width="0.9"/>
<line x1="489.5" y1="137.3" x2="492" y2="137.3" stroke="#5a5a5a" stroke-width="0.9"/>
<line x1="489.5" y1="119.7" x2="492" y2="119.7" stroke="#5a5a5a" stroke-width="0.9"/>
<line x1="489.5" y1="102.1" x2="492" y2="102.1" stroke="#5a5a5a" stroke-width="0.9"/>
<line x1="489.5" y1="84.5" x2="492" y2="84.5" stroke="#5a5a5a" stroke-width="0.9"/>
<line x1="489.5" y1="66.9" x2="492" y2="66.9" stroke="#5a5a5a" stroke-width="0.9"/>
<line x1="489.5" y1="49.3" x2="492" y2="49.3" stroke="#5a5a5a" stroke-width="0.9"/>
<line x1="489.5" y1="31.7" x2="492" y2="31.7" stroke="#5a5a5a" stroke-width="0.9"/>
<line x1="489.5" y1="14.1" x2="492" y2="14.1" stroke="#5a5a5a" stroke-width="0.9"/>
<rect x="494.5" y="12.1" width="36.7" height="25.6" rx="1.2" fill="#fff" fill-opacity="0.8" stroke="#d6d6d6" stroke-width="0.7"/>
<line x1="496.1" y1="15.9" x2="507.7" y2="15.9" stroke="#1f77b4" stroke-width="1.2" stroke-opacity="0.72"/>
<line x1="496.1" y1="24" x2="507.7" y2="24" stroke="#ff7f0e" stroke-width="1.2" stroke-opacity="0.72"/>
<line x1="496.1" y1="32.1" x2="507.7" y2="32.1" stroke="#2ca02c" stroke-width="1.2" stroke-opacity="0.72"/>
<clipPath id="cStack"><rect x="28.5" y="185.7" width="188" height="140.8"/></clipPath>
<g clip-path="url(#cStack)">
<polygon points="28.5,270 31.1,269.56 33,254.63 35,249.96 36.65,249.87 38.3,249.82 40.02,249.88 41.75,249.81 43.47,249.68 45.2,249.82 46.92,250.01 48.65,249.88 50.38,249.71 52.1,249.8 53.83,250.07 55.55,250.17 57.27,250.05 59,250.01 62,240.09 64,227.7 66,214.93 68,213.15 70,205.3 71.62,205.47 73.25,205.63 74.88,205.45 76.5,204.97 78.25,204.42 80,204 81.67,203.72 83.33,203.42 85,203.36 86.67,203.47 88.33,203.73 90,203.86 91.67,203.72 93.33,203.8 95,204.06 96.67,204.22 98.33,204.19 100,203.99 101.67,204 103.33,204.2 105,204.56 108,206.37 110,206.97 112,207.5 114,207.46 116,207.42 118,207.74 120,207.75 122,207.42 124,207.05 126,206.78 128,206.07 130,205.57 131.67,205.31 133.33,205.03 135,204.62 136.67,203.88 138.33,203.28 140,203.16 141.67,202.68 143.33,201.94 145,201.2 146.67,200.41 148.33,199.83 150,199.18 151.67,198.37 153.33,197.81 155,197.75 156.67,197.87 158.33,197.66 160,197.08 161.67,196.26 163.33,195.69 165,195.71 166.67,196.13 168.33,196 170,195.53 171.67,195.31 173.33,195.34 175,195.5 176.67,195.45 178.33,195.14 180,194.88 181.67,194.74 183.33,194.94 185,195.36 186.67,195.45 188.33,195.11 190,195.01 191.67,195.09 193.33,194.76 195,194.74 196.67,195.25 198.33,195.44 200,195.34 201.67,195.08 203.33,194.74 205,194.79 206.67,195.02 208.33,194.93 210,194.74 211.62,194.89 213.25,195.15 214.88,195.03 216.5,195 216.5,236 214.88,236.02 213.25,235.99 211.62,235.52 210,234.94 208.33,235.94 206.67,237.05 205,237.91 203.33,237.58 201.67,237.41 200,237.37 198.33,237.46 196.67,237.14 195,236.56 193.33,236.63 191.67,237 190,237.58 188.33,238.06 186.67,238.14 185,238.19 183.33,237.73 181.67,237.3 180,237.21 178.33,236.78 176.67,236.09 175,235.8 173.33,236.14 171.67,236.34 170,236.12 168.33,235.87 166.67,236.03 165,236.23 163.33,237.03 161.67,237.74 160,238.52 158.33,239.48 156.67,240.4 155,241.18 153.33,241.3 151.67,241.58 150,242.25 148.33,241.87 146.67,241.15 145,240.96 143.33,240.38 141.67,239.37 140,238 138.33,237.62 136.67,237.46 135,236.97 133.33,237.99 131.67,239.27 130,240.34 128,242.36 126,244.41 124,246.25 122,248.22 120,249.17 118,249.83 116,250.19 114,250.76 112,251.47 110,251.93 108,252.32 105,252.38 103.33,252.6 101.67,252.87 100,253.21 98.33,253.61 96.67,253.96 95,254.14 93.33,253.85 91.67,253.6 90,253.58 88.33,253.71 86.67,254.04 85,254.11 83.33,253.75 81.67,253.56 80,253.69 78.25,253.84 76.5,254.01 74.88,254.61 73.25,254.9 71.62,254.95 70,255.14 68,255.69 66,256.13 64,255.76 62,255.73 59,253.52 57.27,253.5 55.55,253.37 53.83,253.28 52.1,253.37 50.38,253.64 48.65,253.79 46.92,253.69 45.2,253.56 43.47,253.63 41.75,253.81 40.02,253.87 38.3,253.69 36.65,257.64 35,261.71 33,289.81 31.1,305.71 28.5,305.6" fill="#1f77b4" fill-opacity="0.165"/>
<polygon points="28.5,255 31.1,254.77 33,249.98 36,252.21 38,253.49 40,254.84 41.67,254 43.33,253.11 45,251.92 48,234.99 51,222.23 54,218.98 56,218.88 58,219.29 60,219.33 62,218.66 64,218.22 66,217.96 68,214.2 70,213.28 72,212.39 74,211.78 76,211.21 77,203.06 78.3,199.24 80,197.86 81.7,196.79 83.36,196.77 85.02,196.53 86.68,196.51 88.34,196.45 90,196.04 91.67,195.74 93.33,195.74 95,195.93 96.67,195.83 98.33,195.62 100,195.69 101.67,196.34 103.33,196.61 105,196.71 108,197.98 110,199.16 112,199.82 114,200.16 116,200.88 118,201.41 120,201.68 121.67,201.69 123.33,201.99 125,202.29 126.67,202.13 128.33,201.78 130,201.06 131.67,200.56 133.33,200.44 135,200.45 136.67,200.61 138.33,200.55 140,199.98 141.67,198.97 143.33,198.52 145,198.3 146.67,197.59 148.33,196.83 150,196.33 151.67,195.92 153.33,195.37 155,194.95 156.67,194.84 158.33,194.83 160,194.4 161.67,194.01 163.33,193.79 165,193.68 166.67,193.74 168.33,193.68 170,193.52 171.67,193.83 173.33,193.82 175,193.23 176.67,193.22 178.33,193.54 180,193.41 181.67,193.39 183.33,193.65 185,193.65 186.67,193.71 188.33,193.85 190,193.73 191.67,193.66 193.33,193.54 195,193.3 196.67,193.22 198.33,193.17 200,193.33 201.67,193.53 203.33,193.42 205,193.52 206.64,193.84 208.29,193.91 209.93,193.64 211.57,193.32 213.21,193.26 214.86,193.27 216.5,193.5 216.5,223 214.86,223.06 213.21,223.26 211.57,223.75 209.93,224.29 208.29,224.36 206.64,224.59 205,225.25 203.33,225.1 201.67,224.6 200,224.25 198.33,223.93 196.67,223.91 195,224.26 193.33,224.79 191.67,225.06 190,225.46 188.33,225.75 186.67,226.25 185,226.87 183.33,226.57 181.67,226.54 180,226.25 178.33,225.61 176.67,225.27 175,224.95 173.33,224.92 171.67,224.97 170,224.93 168.33,225.05 166.67,225.27 165,225.16 163.33,225 161.67,225.02 160,224.8 158.33,225.2 156.67,226.02 155,226.62 153.33,226.76 151.67,226.65 150,226.68 148.33,227.62 146.67,228.86 145,229.66 143.33,230.31 141.67,231.43 140,232.48 138.33,232.95 136.67,233.18 135,233.83 133.33,235.24 131.67,236.12 130,236.74 128.33,237.83 126.67,239.24 125,240.22 123.33,241.05 121.67,242.35 120,243.94 118,243.38 116,243.03 114,241.14 112,238.96 110,238.67 108,238.19 105,240.77 103.33,240.25 101.67,240.16 100,240.32 98.33,240.35 96.67,239.93 95,239.37 93.33,239 91.67,238.89 90,238.72 88.34,238.77 86.68,239.15 85.02,239.74 83.36,240.03 81.7,240.23 80,240.3 78.3,240.3 77,240.36 76,240.16 74,239.83 72,239.95 70,240.02 68,239.74 66,240.57 64,242.33 62,244.24 60,245.92 58,246.2 56,246.54 54,246.68 51,246.61 48,251.59 45,259.73 43.33,260.31 41.67,260.56 40,260.85 38,263.1 36,265.41 33,300.22 31.1,318.77 28.5,319" fill="#ff7f0e" fill-opacity="0.165"/>
<polygon points="28.5,291.8 34.2,291.8 41.4,285 50.7,271.6 61.1,263.9 81.7,258.5 98.2,254.6 122,250.5 140.6,250.1 162.3,247 175.7,249.7 202.6,253.2 216.4,251.8 216.4,255.8 202.6,257.2 175.7,253.7 162.3,251 140.6,254.1 122,254.5 98.2,258.6 81.7,262.5 61.1,267.9 50.7,275.6 41.4,289 34.2,295.8 28.5,295.8" fill="#2ca02c" fill-opacity="0.165"/>
<polyline points="28.5,293.8 34.2,293.8 37.3,292.2 41.4,287 45.6,279.8 50.7,273.6 55.9,269.4 61.1,265.9 66.2,263.9 73.5,262.2 81.7,260.5 90,258.5 98.2,256.6 110,254.5 122,252.5 140.6,252.1 150,250.5 162.3,249 175.7,251.7 188.1,254.2 202.6,255.2 216.4,253.8" fill="none" stroke="#2ca02c" stroke-width="1.0" stroke-linejoin="round"/>
<polyline points="28.5,291.5 31.1,291.5 32.5,276.7 33.8,262.2 35.2,255.2 38.3,251.7 59,251.7 61.5,249 64.2,241.8 68.3,235.6 71.4,230.4 74.5,229.4 79.7,232.5 83.8,229 89,228.4 92,229 95.1,226.3 99.3,224.6 104.4,228.4 109.6,233.5 113.7,237.7 117.9,235.2 122,233.1 128.2,228.4 137.5,222.8 144.7,223.6 150.9,220.7 157.1,220.1 165.4,216 171.6,217 180.9,216.6 183,215 185,212.9 188,217 192.2,218.6 198.4,216.6 210.8,217 216.4,213.9" fill="none" stroke="#1f77b4" stroke-width="1.0" stroke-linejoin="round"/>
<polyline points="28.5,283.9 31.1,283.9 33.2,268.4 35.2,261.2 38.3,258.5 42.5,258.1 45.6,257 46.5,254 47.6,250 49.7,241.8 53.8,235.2 56.9,240.1 61.1,240.8 64.8,238.7 67.3,233.5 71.4,230.4 74.5,227.3 77.6,222.2 82.8,218 86.9,220.7 91,213.9 94.1,216 99.3,217.4 105.5,221.1 109.6,218 112.7,220.1 115.8,224.2 122,224.2 128.2,221.1 136.5,216 140.6,217.4 146.8,214.9 150.9,211.8 159.2,212.4 166.4,211.8 171.6,210.4 177.8,208.7 183,209.1 192.2,208.3 200.5,210.8 208.8,207.7 216.4,208.3" fill="none" stroke="#ff7f0e" stroke-width="1.0" stroke-linejoin="round"/>
</g>
<rect x="28.5" y="185.7" width="188" height="140.8" fill="none" stroke="#858585" stroke-width="1"/>
<line x1="28.5" y1="326.5" x2="28.5" y2="329" stroke="#5a5a5a" stroke-width="0.9"/>
<line x1="66.1" y1="326.5" x2="66.1" y2="329" stroke="#5a5a5a" stroke-width="0.9"/>
<line x1="103.7" y1="326.5" x2="103.7" y2="329" stroke="#5a5a5a" stroke-width="0.9"/>
<line x1="141.3" y1="326.5" x2="141.3" y2="329" stroke="#5a5a5a" stroke-width="0.9"/>
<line x1="178.9" y1="326.5" x2="178.9" y2="329" stroke="#5a5a5a" stroke-width="0.9"/>
<line x1="216.5" y1="326.5" x2="216.5" y2="329" stroke="#5a5a5a" stroke-width="0.9"/>
<line x1="26" y1="326" x2="28.5" y2="326" stroke="#5a5a5a" stroke-width="0.9"/>
<line x1="26" y1="307.38" x2="28.5" y2="307.38" stroke="#5a5a5a" stroke-width="0.9"/>
<line x1="26" y1="288.75" x2="28.5" y2="288.75" stroke="#5a5a5a" stroke-width="0.9"/>
<line x1="26" y1="270.12" x2="28.5" y2="270.12" stroke="#5a5a5a" stroke-width="0.9"/>
<line x1="26" y1="251.5" x2="28.5" y2="251.5" stroke="#5a5a5a" stroke-width="0.9"/>
<line x1="26" y1="232.88" x2="28.5" y2="232.88" stroke="#5a5a5a" stroke-width="0.9"/>
<line x1="26" y1="214.25" x2="28.5" y2="214.25" stroke="#5a5a5a" stroke-width="0.9"/>
<line x1="26" y1="195.62" x2="28.5" y2="195.62" stroke="#5a5a5a" stroke-width="0.9"/>
<rect x="31" y="188.3" width="36.7" height="25.6" rx="1.2" fill="#fff" fill-opacity="0.8" stroke="#d6d6d6" stroke-width="0.7"/>
<line x1="32.6" y1="192.1" x2="44.2" y2="192.1" stroke="#1f77b4" stroke-width="1.2" stroke-opacity="0.72"/>
<line x1="32.6" y1="200.2" x2="44.2" y2="200.2" stroke="#ff7f0e" stroke-width="1.2" stroke-opacity="0.72"/>
<line x1="32.6" y1="208.3" x2="44.2" y2="208.3" stroke="#2ca02c" stroke-width="1.2" stroke-opacity="0.72"/>
<clipPath id="cNutAssembly"><rect x="256.5" y="186.5" width="187.8" height="140.4"/></clipPath>
<g clip-path="url(#cNutAssembly)">
<polygon points="256.5,235 259.1,234.92 261,233.76 263,231.91 266,232.61 268,232.37 270,232.41 271.67,232.58 273.33,232.5 275,232.19 276.67,231.85 278.33,231.74 280,231.87 281.67,231.7 283.33,231.41 285,231.43 286.67,231.35 288.33,231.16 290,231.21 291.67,231.31 293.33,231.06 295,230.63 296.67,230.55 298.33,230.7 300,230.6 301.67,230.32 303.33,230.38 305,230.51 306.67,230.35 308.33,230.06 310,229.8 311.67,229.84 313.33,229.9 315,230 316.67,230.17 318.33,230.19 320,230.02 321.67,229.89 323.33,230.14 325,230.38 326.67,230.44 328.33,230.26 330,229.98 331.67,229.91 333.33,230.01 335,229.56 336.67,229.06 338.33,229.02 340,228.73 341.67,228.21 343.33,228 345,227.99 346.67,227.64 348.33,227.07 350,226.87 351.67,226.03 353.33,225.24 355,224.23 356.67,222.83 358.33,221.87 360,221.04 361.67,219.79 363.33,218.67 365,218 366.67,217.39 368.33,216.4 370,214.99 371.67,213.5 373.33,212.31 375,210.82 376.67,209.47 378.33,208.26 380,206.71 381.67,206.32 383.33,206.39 385,206.29 386.67,206.01 388.33,206.08 390,205.9 391.67,205.52 393.33,205.37 395,205.5 396.67,205.42 398.33,205.43 400,205.76 401.67,205.68 403.33,205.63 405,205.82 406.67,205.84 408.33,205.81 410,205.8 411.63,205.72 413.27,205.5 414.9,205.44 416.53,205.53 418.17,205.75 419.8,205.89 421.43,205.91 423.07,205.83 424.7,205.57 426.33,205.42 427.97,205.47 429.6,205.77 431.23,205.65 432.87,205.43 434.5,205.8 436.13,206.02 437.77,205.92 439.4,205.76 441.03,205.57 442.67,205.42 444.3,205.6 444.3,214.9 442.67,214.79 441.03,214.82 439.4,214.69 437.77,214.67 436.13,214.75 434.5,215.17 432.87,215.49 431.23,215.29 429.6,215.12 427.97,215.12 426.33,215.1 424.7,215.34 423.07,215.45 421.43,215.11 419.8,214.77 418.17,214.67 416.53,214.76 414.9,214.84 413.27,215.09 411.63,215.15 410,214.71 408.33,214.59 406.67,214.97 405,215.39 403.33,215.28 401.67,214.93 400,215.02 398.33,215.52 396.67,216.01 395,216.16 393.33,216.02 391.67,216.06 390,216.4 388.33,217.92 386.67,219.19 385,220.91 383.33,222.64 381.67,224.08 380,225.75 378.33,227.27 376.67,228.53 375,229.33 373.33,230.2 371.67,231.53 370,232.99 368.33,233.58 366.67,234.09 365,234.52 363.33,235.25 361.67,236.06 360,236.59 358.33,236.6 356.67,236.57 355,236.77 353.33,236.86 351.67,236.98 350,237.48 348.33,237.48 346.67,236.96 345,236.69 343.33,236.72 341.67,236.62 340,236.74 338.33,236.9 336.67,236.89 335,236.66 333.33,236.41 331.67,236.55 330,236.58 328.33,236.46 326.67,236.43 325,236.33 323.33,236.39 321.67,236.41 320,236.04 318.33,235.81 316.67,235.91 315,235.97 313.33,235.99 311.67,236.01 310,236.08 308.33,236.12 306.67,236.21 305,236.37 303.33,236.19 301.67,235.86 300,235.71 298.33,235.72 296.67,235.92 295,236.14 293.33,236.25 291.67,236.16 290,235.96 288.33,236.2 286.67,236.49 285,236.39 283.33,236.24 281.67,236.48 280,236.77 278.33,236.78 276.67,236.8 275,236.83 273.33,236.84 271.67,237.19 270,237.51 268,238.24 266,239.21 263,244.26 261,262.02 259.1,319.78 256.5,320" fill="#1f77b4" fill-opacity="0.165"/>
<polygon points="256.5,262 259.1,262.24 261,245.45 263,230.25 266,213.91 268,212.37 270,210.68 271.67,210.74 273.33,211.1 275,211.15 276.67,211.13 278.33,211.15 280,211.22 281.67,211.39 283.33,211.53 285,211.77 286.67,211.81 288.33,211.65 290,211.79 291.67,212.11 293.33,212.18 295,212.55 296.67,212.96 298.33,213.13 300,213.56 301.67,213.95 303.33,214.13 305,214 306.67,213.79 308.33,213.83 310,214.19 311.67,214.52 313.33,214.36 315,214.39 316.67,214.75 318.33,214.7 320,214.7 321.67,214.61 323.33,214.48 325,214.37 326.67,214.13 328.33,214.11 330,214.36 331.67,214.5 333.33,214.39 335,213.95 336.67,213.21 338.33,212.95 340,212.46 341.67,211.53 343.33,210.52 345,209.97 346.67,209.6 348.33,208.94 350,207.82 351.67,206.61 353.33,205.8 355,205.1 356.67,204.14 358.33,202.84 360,201.88 361.67,201.3 363.33,200.49 365,199.41 366.67,198.09 368.33,196.96 370,196.06 371.67,195.95 373.33,195.95 375,195.85 376.67,195.74 378.33,195.75 380,195.44 381.67,194.92 383.33,194.85 385,195.08 386.67,194.99 388.33,194.9 390,194.82 391.67,194.66 393.33,194.69 395,194.54 396.67,193.99 398.33,193.57 400,193.73 401.67,194.22 403.33,194.25 405,193.78 406.67,193.51 408.33,193.51 410,193.37 411.67,193.18 413.33,193.29 415,193.5 416.67,193.49 418.33,193.57 420,193.42 421.62,193.18 423.24,193.45 424.86,193.78 426.48,193.82 428.1,193.81 429.72,193.74 431.34,193.39 432.96,192.92 434.58,193.04 436.2,193.46 437.82,193.52 439.44,193.21 441.06,192.87 442.68,192.94 444.3,193.2 444.3,204.6 442.68,204.6 441.06,204.82 439.44,204.63 437.82,204.29 436.2,204.58 434.58,204.77 432.96,204.59 431.34,204.6 429.72,204.72 428.1,204.99 426.48,205.26 424.86,205.3 423.24,205.2 421.62,205.11 420,205.3 418.33,205.4 416.67,205.42 415,205.61 413.33,205.51 411.67,205.23 410,205.34 408.33,205.54 406.67,205.56 405,205.64 403.33,205.51 401.67,205.14 400,205.33 398.33,206.02 396.67,206.18 395,205.79 393.33,205.71 391.67,206.13 390,206.49 388.33,206.81 386.67,207.04 385,207.27 383.33,207.33 381.67,207.23 380,207.29 378.33,207.46 376.67,207.68 375,208.02 373.33,208.47 371.67,208.63 370,208.83 368.33,209.84 366.67,210.59 365,211.54 363.33,212.62 361.67,213.44 360,213.96 358.33,214.65 356.67,215.83 355,217.22 353.33,218.32 351.67,219.22 350,220.25 348.33,220.84 346.67,221.21 345,221.7 343.33,222.52 341.67,223.52 340,224.12 338.33,224.69 336.67,225.36 335,225.83 333.33,225.87 331.67,225.86 330,225.88 328.33,226.15 326.67,226.16 325,226.11 323.33,226.11 321.67,226.09 320,226.24 318.33,226.17 316.67,226.3 315,226.89 313.33,226.98 311.67,226.67 310,226.62 308.33,226.75 306.67,226.8 305,226.95 303.33,227.28 301.67,227.2 300,226.9 298.33,227.29 296.67,227.6 295,227.71 293.33,228.17 291.67,228.61 290,228.64 288.33,228.21 286.67,228.12 285,228.34 283.33,228.49 281.67,228.82 280,229.17 278.33,229.32 276.67,229.37 275,229.15 273.33,228.85 271.67,228.9 270,229.44 268,231.7 266,233.63 263,250.36 261,289.95 259.1,319.88 256.5,320" fill="#ff7f0e" fill-opacity="0.165"/>
<polygon points="256.5,298.4 263.2,298.4 272.5,292.2 283.9,281.9 301.5,271.6 323.1,260.2 339.7,249.1 365.5,240.8 387.2,238.8 412,243.5 444.3,244.3 444.3,248.3 412,247.5 387.2,242.8 365.5,244.8 339.7,253.1 323.1,264.2 301.5,275.6 283.9,285.9 272.5,296.2 263.2,302.4 256.5,302.4" fill="#2ca02c" fill-opacity="0.165"/>
<polyline points="256.5,300.4 263.2,300.4 267.4,298.4 272.5,294.2 277.7,289.1 283.9,283.9 292.2,278.7 301.5,273.6 308.7,270 315.9,266.3 323.1,262.2 330.4,257 339.7,251.1 346.9,248 350,247 365.5,242.8 376.9,241.4 387.2,240.8 394.4,241.4 401.7,243.9 412,245.5 428.5,245.9 444.3,246.3" fill="none" stroke="#2ca02c" stroke-width="1.0" stroke-linejoin="round"/>
<polyline points="256.5,276.7 259.1,276.7 260.5,255 262.2,240.8 265.3,236.6 270.5,235.2 276.7,233.9 287,233.5 297.3,232.5 303.5,231.9 311.8,233.1 320,234.1 326.2,232.5 332.4,234.1 350,233.1 358.3,229.4 366.5,225.3 371.7,222.8 374.8,217 381,216 388.2,211.8 397.5,210.8 412,210.4 428.5,209.8 444.3,210.4" fill="none" stroke="#1f77b4" stroke-width="1.0" stroke-linejoin="round"/>
<polyline points="256.5,290.1 259.1,290.1 260.5,256 261.2,257 262.2,243.9 264.3,231.5 267.4,224.2 270.5,220.7 273.6,221.5 278.7,220.7 284.9,222.2 288,220.1 293.2,220.7 296.3,217 299.4,219.5 305.6,220.1 313.9,221.5 322.1,221.5 327.3,220.1 331.4,221.5 337.6,220.1 342.8,218 350,214.9 356.2,209.8 362.4,205.6 368.6,203.6 376.9,201.5 387.2,200.5 399.6,200 409.9,200.5 420.2,199.8 428.5,200.9 434.7,198.8 444.3,199.4" fill="none" stroke="#ff7f0e" stroke-width="1.0" stroke-linejoin="round"/>
</g>
<rect x="256.5" y="186.5" width="187.8" height="140.4" fill="none" stroke="#858585" stroke-width="1"/>
<line x1="256.5" y1="326.9" x2="256.5" y2="329.4" stroke="#5a5a5a" stroke-width="0.9"/>
<line x1="294.06" y1="326.9" x2="294.06" y2="329.4" stroke="#5a5a5a" stroke-width="0.9"/>
<line x1="331.62" y1="326.9" x2="331.62" y2="329.4" stroke="#5a5a5a" stroke-width="0.9"/>
<line x1="369.18" y1="326.9" x2="369.18" y2="329.4" stroke="#5a5a5a" stroke-width="0.9"/>
<line x1="406.74" y1="326.9" x2="406.74" y2="329.4" stroke="#5a5a5a" stroke-width="0.9"/>
<line x1="444.3" y1="326.9" x2="444.3" y2="329.4" stroke="#5a5a5a" stroke-width="0.9"/>
<line x1="254" y1="317.4" x2="256.5" y2="317.4" stroke="#5a5a5a" stroke-width="0.9"/>
<line x1="254" y1="300.92" x2="256.5" y2="300.92" stroke="#5a5a5a" stroke-width="0.9"/>
<line x1="254" y1="284.44" x2="256.5" y2="284.44" stroke="#5a5a5a" stroke-width="0.9"/>
<line x1="254" y1="267.96" x2="256.5" y2="267.96" stroke="#5a5a5a" stroke-width="0.9"/>
<line x1="254" y1="251.48" x2="256.5" y2="251.48" stroke="#5a5a5a" stroke-width="0.9"/>
<line x1="254" y1="235" x2="256.5" y2="235" stroke="#5a5a5a" stroke-width="0.9"/>
<line x1="254" y1="218.52" x2="256.5" y2="218.52" stroke="#5a5a5a" stroke-width="0.9"/>
<line x1="254" y1="202.04" x2="256.5" y2="202.04" stroke="#5a5a5a" stroke-width="0.9"/>
<rect x="259" y="189.1" width="36.7" height="25.6" rx="1.2" fill="#fff" fill-opacity="0.8" stroke="#d6d6d6" stroke-width="0.7"/>
<line x1="260.6" y1="192.9" x2="272.2" y2="192.9" stroke="#1f77b4" stroke-width="1.2" stroke-opacity="0.72"/>
<line x1="260.6" y1="201" x2="272.2" y2="201" stroke="#ff7f0e" stroke-width="1.2" stroke-opacity="0.72"/>
<line x1="260.6" y1="209.1" x2="272.2" y2="209.1" stroke="#2ca02c" stroke-width="1.2" stroke-opacity="0.72"/>
<clipPath id="cCleanup"><rect x="492.4" y="186.2" width="187.5" height="140.3"/></clipPath>
<g clip-path="url(#cCleanup)">
<polygon points="492.2,283 495.1,283.04 497,254.95 499,244.84 500.67,244.02 502.33,243.11 504,242.08 506,239.9 508,237.39 510,234.77 511.67,234.31 513.33,233.74 515,232.77 516.67,232.07 518.33,231.78 520,231.32 521.67,230.44 523.33,229.5 525,228.56 526.67,227.85 528.33,227.03 530,225.7 531.67,225.65 533.33,226.05 535,226.16 536.67,226.3 538.33,226.52 540,226.53 541.67,226.36 543.33,226.24 545,226.35 546.67,226.51 548.33,226.29 550,225.99 551.67,226.26 553.33,226.31 555,226.1 556.67,226.29 558.33,226.38 560,226.08 561.62,225.7 563.25,225.56 564.88,225.37 566.5,225.16 568.12,225.1 569.75,225.11 571.38,224.97 573,224.63 574.62,224.39 576.25,224.45 577.88,224.4 579.5,224.08 581.12,224.15 582.75,224.28 584.38,224.04 586,224.15 587.75,224.47 589.5,224.42 591.25,224.47 593,224.38 594.75,224.56 596.5,224.97 598.25,225.08 600,225.21 601.67,225.22 603.33,225.11 605,224.77 606.67,224.77 608.33,224.79 610,224.34 611.67,224.13 613.33,224.39 615,224.43 616.67,223.95 618.33,223.86 620,224.11 621.67,223.78 623.33,223.21 625,222.6 626.67,222.25 628.33,222.18 630,221.82 631.67,221.26 633.33,220.86 635,220.69 636.67,220.77 638.33,220.57 640,220.09 641.67,219.64 643.33,219.17 645,218.64 646.67,218.23 648.33,217.56 650,216.98 651.67,217.25 653.33,217.26 655,217.02 656.67,216.9 658.33,217.05 660,217.07 661.67,216.97 663.33,217.06 665,216.86 666.67,216.56 668.33,216.52 670,216.76 671.67,217.06 673.33,217.03 675,217.14 676.67,217.22 678.33,216.91 680,217 680,232.5 678.33,232.34 676.67,232.3 675,232.23 673.33,232.24 671.67,232.53 670,232.94 668.33,232.91 666.67,232.49 665,232.42 663.33,232.72 661.67,232.69 660,232.2 658.33,232.02 656.67,232.12 655,232.05 653.33,232.25 651.67,232.55 650,232.38 648.33,232.32 646.67,232.57 645,232.47 643.33,232.34 641.67,232.67 640,232.85 638.33,232.58 636.67,232.34 635,232.37 633.33,232.53 631.67,232.51 630,232.45 628.33,232.48 626.67,232.5 625,232.73 623.33,232.65 621.67,232.33 620,232.57 618.33,232.75 616.67,232.54 615,232.72 613.33,232.8 611.67,232.51 610,232.42 608.33,232.35 606.67,232.27 605,232.4 603.33,232.68 601.67,232.8 600,232.7 598.25,232.75 596.5,232.71 594.75,232.42 593,232.43 591.25,232.77 589.5,232.97 587.75,233.06 586,233.16 584.38,233.22 582.75,233.02 581.12,233.1 579.5,233.62 577.88,234.1 576.25,234.42 574.62,234.62 573,234.68 571.38,234.77 569.75,234.74 568.12,234.52 566.5,234.6 564.88,234.89 563.25,235.36 561.62,235.68 560,235.66 558.33,235.63 556.67,235.5 555,235.17 553.33,235.13 551.67,235.31 550,235.41 548.33,235.39 546.67,235.37 545,235.16 543.33,234.87 541.67,235.04 540,235.23 538.33,235.17 536.67,235.2 535,235.23 533.33,235.35 531.67,235.16 530,234.78 528.33,235.67 526.67,236.75 525,237.73 523.33,238.49 521.67,239.14 520,239.88 518.33,241 516.67,241.91 515,242.39 513.33,243.3 511.67,244.35 510,244.99 508,246.88 506,248.91 504,250.84 502.33,252.95 500.67,255.14 499,257.19 497,290.11 495.1,319.99 492.2,320" fill="#1f77b4" fill-opacity="0.165"/>
<polygon points="492.2,283 495.1,282.86 497,249.66 499,243.71 500.67,241.27 502.33,238.51 504,235.22 506,232.59 508,230.06 510,227.73 511.67,227 513.33,226.1 515,225.42 516.67,224.9 518.33,224.05 520,222.99 521.67,222.71 523.33,222.61 525,222.29 526.67,221.88 528.33,221.34 530,220.62 531.67,220.36 533.33,220.36 535,220.59 536.67,220.8 538.33,220.93 540,221.04 541.67,220.94 543.33,220.86 545,220.82 546.67,220.67 548.33,220.49 550,220.69 551.67,220.97 553.33,220.84 555,220.64 556.67,220.52 558.33,220.8 560,221.22 561.67,220.92 563.33,220.61 565,220.47 566.67,220.15 568.33,220.07 570,220.18 571.67,220.05 573.33,219.87 575,219.49 576.67,219.02 578.33,218.68 580,218.74 582,218.66 584,218.1 586,217.49 588,216.23 590,214.97 591.67,213.65 593.33,212.19 595,211.09 596.67,210 598.33,208.46 600,206.79 601.67,205.64 603.33,204.74 605,203.69 606.67,202.3 608.33,200.97 610,199.49 611.67,199.29 613.33,198.77 615,198.18 616.67,198.13 618.33,197.98 620,197.32 621.67,195.8 623.33,194.6 625,193.3 626.67,194.57 628.33,196.09 630,197.12 631.67,196.71 633.33,196.97 635,197.57 636.67,197.81 638.33,197.99 640,197.91 641.67,197.86 643.33,198.38 645,198.79 646.67,198.54 648.33,198.31 650,198.3 651.67,198.19 653.33,198.22 655,198.45 656.67,198.55 658.33,198.7 660,198.59 661.67,197.39 663.33,196.63 665,196.4 666.67,196.44 668.33,196.01 670,195.21 671.67,194.6 673.33,194.28 675,193.87 676.67,193.58 678.33,193.52 680,193.2 680,230 678.33,229.47 676.67,229.32 675,229.33 673.33,229.51 671.67,229.76 670,229.87 668.33,229.79 666.67,229.56 665,229.1 663.33,228.81 661.67,228.9 660,228.87 658.33,228.52 656.67,228.62 655,228.98 653.33,228.98 651.67,228.77 650,228.71 648.33,228.49 646.67,228.27 645,228.24 643.33,227.99 641.67,227.7 640,227.1 638.33,226.47 636.67,226.25 635,226.35 633.33,226.46 631.67,226.15 630,225.99 628.33,225.93 626.67,225.98 625,226.32 623.33,226.63 621.67,226.73 620,226.77 618.33,226.51 616.67,226.11 615,226.02 613.33,226.1 611.67,226.43 610,226.56 608.33,226.34 606.67,226.29 605,226.16 603.33,226.16 601.67,226.3 600,226.22 598.33,226.39 596.67,226.54 595,226.34 593.33,226.62 591.67,227.03 590,226.83 588,226.7 586,227.02 584,227.29 582,227.39 580,227.52 578.33,227.85 576.67,228.14 575,228.21 573.33,228.26 571.67,228.05 570,228.07 568.33,228.66 566.67,228.89 565,228.68 563.33,228.63 561.67,228.6 560,228.8 558.33,229.12 556.67,229.01 555,228.82 553.33,228.77 551.67,228.76 550,229.09 548.33,229.62 546.67,229.71 545,229.57 543.33,229.66 541.67,229.61 540,229.34 538.33,229.47 536.67,229.82 535,229.86 533.33,229.79 531.67,229.76 530,229.97 528.33,230.54 526.67,230.86 525,231.12 523.33,231.56 521.67,231.93 520,232.06 518.33,232.96 516.67,233.92 515,234.64 513.33,235.35 511.67,235.99 510,236.88 508,238.88 506,240.78 504,243.11 502.33,246.35 500.67,249.26 499,252.16 497,275.19 495.1,320.23 492.2,320" fill="#ff7f0e" fill-opacity="0.165"/>
<polygon points="492.2,298.2 499.2,298.2 509.6,293 527.1,282.7 545.7,275 566.4,265.1 586,258.4 602,255.1 622.3,253.8 636.1,255.8 649.9,257 679.9,257.7 679.9,260.1 649.9,259.4 636.1,258.2 622.3,256.2 602,257.5 586,260.8 566.4,267.5 545.7,277.4 527.1,285.1 509.6,295.4 499.2,300.6 492.2,300.6" fill="#2ca02c" fill-opacity="0.165"/>
<polyline points="492.2,299.4 499.2,299.4 502.3,298.4 509.6,294.2 517.8,289.1 527.1,283.9 536.4,279.8 545.7,276.2 556,271.5 566.4,266.3 575.7,262.2 586,259.6 596.2,258.2 602,256.3 610.7,255.7 622.3,255 630.3,255.3 636.1,257 639.7,256.7 649.9,258.2 665.9,258.3 679.9,258.9" fill="none" stroke="#2ca02c" stroke-width="1.0" stroke-linejoin="round"/>
<polyline points="492.2,301.5 495.1,301.5 496.5,280 497.5,262 498.6,252.1 500.3,248 504.4,247 506.5,245.9 509.6,240.1 513.7,237.7 518.9,235.6 522,233.1 525.1,230.4 533.3,230.4 539.5,231 543.7,232.5 547.8,230.4 554,231.5 560.2,230.4 566.4,232.5 574.6,230.4 586,228.4 592.2,229 600.5,228.4 610.8,229.4 617,228.4 627.3,227.3 637.7,226.3 648,225.7 654.2,224.8 660.4,225.3 664.5,224.2 672.8,224.8 679.9,224.2" fill="none" stroke="#1f77b4" stroke-width="1.0" stroke-linejoin="round"/>
<polyline points="492.2,299.4 495.1,299.4 496.5,275 497.2,262 498.2,248 500.3,242.8 504.4,239.7 507.5,235.6 511.6,233.1 516.8,230.4 520.9,228.4 527.1,226.7 533.3,226.3 537.5,225.3 543.7,225.7 551.9,224.4 558.1,225.7 566.4,224.6 574.6,224.2 586,223.6 594.3,220.7 600.5,219.1 604.6,217 606.7,218 610.8,212.9 617,211.2 622.2,210.4 625.3,209.1 629.4,211.8 635.6,212.9 640.8,212.4 644.9,214.5 649,212.4 652.1,212.9 656.2,215.3 659.3,214.9 663.5,212.4 668.6,212.4 671.1,213.9 674.8,209.8 679.9,207.7" fill="none" stroke="#ff7f0e" stroke-width="1.0" stroke-linejoin="round"/>
</g>
<rect x="492.4" y="186.2" width="187.5" height="140.3" fill="none" stroke="#858585" stroke-width="1"/>
<line x1="492.4" y1="326.5" x2="492.4" y2="329" stroke="#5a5a5a" stroke-width="0.9"/>
<line x1="529.9" y1="326.5" x2="529.9" y2="329" stroke="#5a5a5a" stroke-width="0.9"/>
<line x1="567.4" y1="326.5" x2="567.4" y2="329" stroke="#5a5a5a" stroke-width="0.9"/>
<line x1="604.9" y1="326.5" x2="604.9" y2="329" stroke="#5a5a5a" stroke-width="0.9"/>
<line x1="642.4" y1="326.5" x2="642.4" y2="329" stroke="#5a5a5a" stroke-width="0.9"/>
<line x1="679.9" y1="326.5" x2="679.9" y2="329" stroke="#5a5a5a" stroke-width="0.9"/>
<line x1="489.9" y1="312.8" x2="492.4" y2="312.8" stroke="#5a5a5a" stroke-width="0.9"/>
<line x1="489.9" y1="281.82" x2="492.4" y2="281.82" stroke="#5a5a5a" stroke-width="0.9"/>
<line x1="489.9" y1="250.85" x2="492.4" y2="250.85" stroke="#5a5a5a" stroke-width="0.9"/>
<line x1="489.9" y1="219.88" x2="492.4" y2="219.88" stroke="#5a5a5a" stroke-width="0.9"/>
<line x1="489.9" y1="188.9" x2="492.4" y2="188.9" stroke="#5a5a5a" stroke-width="0.9"/>
<rect x="494.9" y="188.8" width="36.7" height="25.6" rx="1.2" fill="#fff" fill-opacity="0.8" stroke="#d6d6d6" stroke-width="0.7"/>
<line x1="496.5" y1="192.6" x2="508.1" y2="192.6" stroke="#1f77b4" stroke-width="1.2" stroke-opacity="0.72"/>
<line x1="496.5" y1="200.7" x2="508.1" y2="200.7" stroke="#ff7f0e" stroke-width="1.2" stroke-opacity="0.72"/>
<line x1="496.5" y1="208.8" x2="508.1" y2="208.8" stroke="#2ca02c" stroke-width="1.2" stroke-opacity="0.72"/>
<g stroke="#262626" stroke-width="0.6">
<line x1="17.24" y1="147.85" x2="20.84" y2="147.85"/>
<line x1="17.24" y1="127.3" x2="20.84" y2="127.3"/>
<line x1="17.24" y1="106.75" x2="20.84" y2="106.75"/>
<line x1="245.24" y1="127.84" x2="248.84" y2="127.84"/>
<line x1="472.95" y1="137.4" x2="476.55" y2="137.4"/>
<line x1="476.07" y1="119.8" x2="479.67" y2="119.8"/>
<line x1="476.07" y1="102.2" x2="479.67" y2="102.2"/>
<line x1="476.07" y1="84.6" x2="479.67" y2="84.6"/>
<line x1="9.45" y1="326.1" x2="13.05" y2="326.1"/>
<line x1="12.57" y1="307.48" x2="16.17" y2="307.48"/>
<line x1="12.57" y1="288.85" x2="16.17" y2="288.85"/>
<line x1="12.57" y1="270.23" x2="16.17" y2="270.23"/>
<line x1="242.12" y1="317.5" x2="245.72" y2="317.5"/>
<line x1="245.24" y1="301.02" x2="248.84" y2="301.02"/>
<line x1="245.24" y1="284.54" x2="248.84" y2="284.54"/>
<line x1="245.24" y1="268.06" x2="248.84" y2="268.06"/>
<line x1="245.24" y1="251.58" x2="248.84" y2="251.58"/>
<line x1="478.02" y1="312.9" x2="481.62" y2="312.9"/>
<line x1="481.14" y1="281.93" x2="484.74" y2="281.93"/>
</g>
<g class="t" fill="#262626" stroke="#262626" stroke-width="0.14">
<text x="28.5" y="158" font-size="5.6" text-anchor="middle">0</text>
<text x="66.12" y="158" font-size="5.6" text-anchor="middle">100</text>
<text x="103.74" y="158" font-size="5.6" text-anchor="middle">200</text>
<text x="141.36" y="158" font-size="5.6" text-anchor="middle">300</text>
<text x="178.98" y="158" font-size="5.6" text-anchor="middle">400</text>
<text x="216.6" y="158" font-size="5.6" text-anchor="middle">500</text>
<text x="24.4" y="149.75" font-size="5.6" text-anchor="end">6</text>
<text x="24.4" y="129.2" font-size="5.6" text-anchor="end">4</text>
<text x="24.4" y="108.65" font-size="5.6" text-anchor="end">2</text>
<text x="24.4" y="88.1" font-size="5.6" text-anchor="end">0</text>
<text x="24.4" y="67.55" font-size="5.6" text-anchor="end">2</text>
<text x="24.4" y="47" font-size="5.6" text-anchor="end">4</text>
<text x="24.4" y="26.45" font-size="5.6" text-anchor="end">6</text>
<text x="122.55" y="5.9" font-size="6.95" text-anchor="middle">Lift</text>
<text x="122.55" y="165.3" font-size="5.95" text-anchor="middle">training epochs</text>
<text x="11.7" y="81.75" font-size="5.95" text-anchor="middle" transform="rotate(-90 11.7 79.75)">episode return</text>
<text x="48.4" y="127.5" font-size="4.95">MAPLE</text>
<text x="48.4" y="135.6" font-size="4.95">LARAP</text>
<text x="48.4" y="143.7" font-size="4.95">SAC</text>
<text x="256.5" y="158" font-size="5.6" text-anchor="middle">0</text>
<text x="294.08" y="158" font-size="5.6" text-anchor="middle">100</text>
<text x="331.66" y="158" font-size="5.6" text-anchor="middle">200</text>
<text x="369.24" y="158" font-size="5.6" text-anchor="middle">300</text>
<text x="406.82" y="158" font-size="5.6" text-anchor="middle">400</text>
<text x="444.4" y="158" font-size="5.6" text-anchor="middle">500</text>
<text x="252.4" y="129.74" font-size="5.6" text-anchor="end">2</text>
<text x="252.4" y="101.6" font-size="5.6" text-anchor="end">0</text>
<text x="252.4" y="73.46" font-size="5.6" text-anchor="end">2</text>
<text x="252.4" y="45.32" font-size="5.6" text-anchor="end">4</text>
<text x="252.4" y="17.18" font-size="5.6" text-anchor="end">6</text>
<text x="350.45" y="5.9" font-size="6.95" text-anchor="middle">Door</text>
<text x="350.45" y="165.3" font-size="5.95" text-anchor="middle">training epochs</text>
<text x="239.1" y="81.75" font-size="5.95" text-anchor="middle" transform="rotate(-90 239.1 79.75)">episode return</text>
<text x="422.3" y="127.5" font-size="4.95">MAPLE</text>
<text x="422.3" y="135.6" font-size="4.95">LARAP</text>
<text x="422.3" y="143.7" font-size="4.95">SAC</text>
<text x="492" y="158" font-size="5.6" text-anchor="middle">0</text>
<text x="529.6" y="158" font-size="5.6" text-anchor="middle">100</text>
<text x="567.2" y="158" font-size="5.6" text-anchor="middle">200</text>
<text x="604.8" y="158" font-size="5.6" text-anchor="middle">300</text>
<text x="642.4" y="158" font-size="5.6" text-anchor="middle">400</text>
<text x="680" y="158" font-size="5.6" text-anchor="middle">500</text>
<text x="487.9" y="139.3" font-size="5.6" text-anchor="end">10.0</text>
<text x="487.9" y="121.7" font-size="5.6" text-anchor="end">7.5</text>
<text x="487.9" y="104.1" font-size="5.6" text-anchor="end">5.0</text>
<text x="487.9" y="86.5" font-size="5.6" text-anchor="end">2.5</text>
<text x="487.9" y="68.9" font-size="5.6" text-anchor="end">0.0</text>
<text x="487.9" y="51.3" font-size="5.6" text-anchor="end">2.5</text>
<text x="487.9" y="33.7" font-size="5.6" text-anchor="end">5.0</text>
<text x="487.9" y="16.1" font-size="5.6" text-anchor="end">7.5</text>
<text x="586" y="5.9" font-size="6.95" text-anchor="middle">Pick and Place</text>
<text x="586" y="165.3" font-size="5.95" text-anchor="middle">training epochs</text>
<text x="466.3" y="81.5" font-size="5.95" text-anchor="middle" transform="rotate(-90 466.3 79.5)">episode return</text>
<text x="511.8" y="17.7" font-size="4.95">MAPLE</text>
<text x="511.8" y="25.8" font-size="4.95">LARAP</text>
<text x="511.8" y="33.9" font-size="4.95">SAC</text>
<text x="28.5" y="333.9" font-size="5.6" text-anchor="middle">0</text>
<text x="66.1" y="333.9" font-size="5.6" text-anchor="middle">100</text>
<text x="103.7" y="333.9" font-size="5.6" text-anchor="middle">200</text>
<text x="141.3" y="333.9" font-size="5.6" text-anchor="middle">300</text>
<text x="178.9" y="333.9" font-size="5.6" text-anchor="middle">400</text>
<text x="216.5" y="333.9" font-size="5.6" text-anchor="middle">500</text>
<text x="24.4" y="328" font-size="5.6" text-anchor="end">10.0</text>
<text x="24.4" y="309.38" font-size="5.6" text-anchor="end">7.5</text>
<text x="24.4" y="290.75" font-size="5.6" text-anchor="end">5.0</text>
<text x="24.4" y="272.12" font-size="5.6" text-anchor="end">2.5</text>
<text x="24.4" y="253.5" font-size="5.6" text-anchor="end">0.0</text>
<text x="24.4" y="234.88" font-size="5.6" text-anchor="end">2.5</text>
<text x="24.4" y="216.25" font-size="5.6" text-anchor="end">5.0</text>
<text x="24.4" y="197.62" font-size="5.6" text-anchor="end">7.5</text>
<text x="122.5" y="182.4" font-size="6.95" text-anchor="middle">Stack</text>
<text x="122.5" y="341.2" font-size="5.95" text-anchor="middle">training epochs</text>
<text x="3.5" y="258.1" font-size="5.95" text-anchor="middle" transform="rotate(-90 3.5 256.1)">episode return</text>
<text x="48.3" y="193.9" font-size="4.95">MAPLE</text>
<text x="48.3" y="202" font-size="4.95">LARAP</text>
<text x="48.3" y="210.1" font-size="4.95">SAC</text>
<text x="256.5" y="333.9" font-size="5.6" text-anchor="middle">0</text>
<text x="294.06" y="333.9" font-size="5.6" text-anchor="middle">100</text>
<text x="331.62" y="333.9" font-size="5.6" text-anchor="middle">200</text>
<text x="369.18" y="333.9" font-size="5.6" text-anchor="middle">300</text>
<text x="406.74" y="333.9" font-size="5.6" text-anchor="middle">400</text>
<text x="444.3" y="333.9" font-size="5.6" text-anchor="middle">500</text>
<text x="252.4" y="319.4" font-size="5.6" text-anchor="end">10</text>
<text x="252.4" y="302.92" font-size="5.6" text-anchor="end">8</text>
<text x="252.4" y="286.44" font-size="5.6" text-anchor="end">6</text>
<text x="252.4" y="269.96" font-size="5.6" text-anchor="end">4</text>
<text x="252.4" y="253.48" font-size="5.6" text-anchor="end">2</text>
<text x="252.4" y="237" font-size="5.6" text-anchor="end">0</text>
<text x="252.4" y="220.52" font-size="5.6" text-anchor="end">2</text>
<text x="252.4" y="204.04" font-size="5.6" text-anchor="end">4</text>
<text x="350.4" y="183.2" font-size="6.95" text-anchor="middle">Nut Assembly</text>
<text x="350.4" y="341.2" font-size="5.95" text-anchor="middle">training epochs</text>
<text x="236.1" y="258.7" font-size="5.95" text-anchor="middle" transform="rotate(-90 236.1 256.7)">episode return</text>
<text x="276.3" y="194.7" font-size="4.95">MAPLE</text>
<text x="276.3" y="202.8" font-size="4.95">LARAP</text>
<text x="276.3" y="210.9" font-size="4.95">SAC</text>
<text x="492.4" y="333.9" font-size="5.6" text-anchor="middle">0</text>
<text x="529.9" y="333.9" font-size="5.6" text-anchor="middle">100</text>
<text x="567.4" y="333.9" font-size="5.6" text-anchor="middle">200</text>
<text x="604.9" y="333.9" font-size="5.6" text-anchor="middle">300</text>
<text x="642.4" y="333.9" font-size="5.6" text-anchor="middle">400</text>
<text x="679.9" y="333.9" font-size="5.6" text-anchor="middle">500</text>
<text x="488.3" y="314.8" font-size="5.6" text-anchor="end">10</text>
<text x="488.3" y="283.82" font-size="5.6" text-anchor="end">5</text>
<text x="488.3" y="252.85" font-size="5.6" text-anchor="end">0</text>
<text x="488.3" y="221.88" font-size="5.6" text-anchor="end">5</text>
<text x="488.3" y="190.9" font-size="5.6" text-anchor="end">10</text>
<text x="586.15" y="182.9" font-size="6.95" text-anchor="middle">Cleanup</text>
<text x="586.15" y="341.2" font-size="5.95" text-anchor="middle">training epochs</text>
<text x="471.8" y="258.35" font-size="5.95" text-anchor="middle" transform="rotate(-90 471.8 256.35)">episode return</text>
<text x="512.2" y="194.4" font-size="4.95">MAPLE</text>
<text x="512.2" y="202.5" font-size="4.95">LARAP</text>
<text x="512.2" y="210.6" font-size="4.95">SAC</text>
</g>
</svg></div></body></html>
